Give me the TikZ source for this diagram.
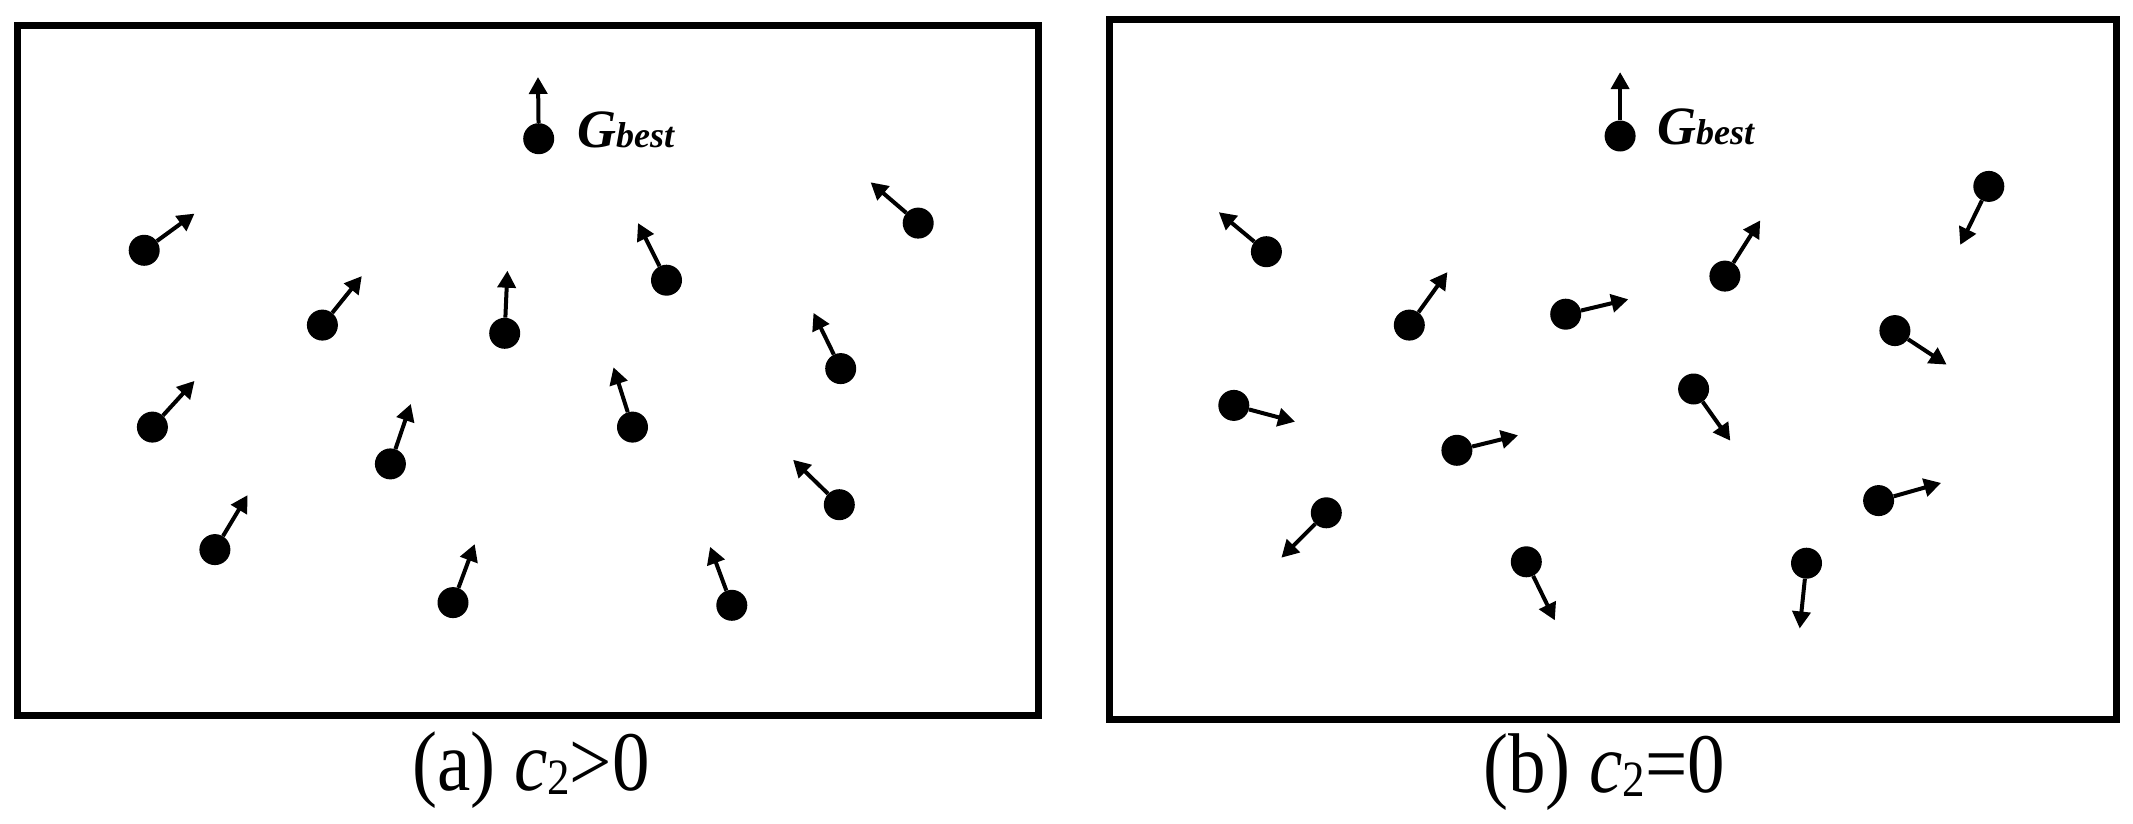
\documentclass[tikz,border=0pt]{standalone}
\usepackage{fontspec}
\setmainfont{Liberation Serif}
\usetikzlibrary{arrows.meta}
\tikzset{
  frame/.style={draw=black, line width=7pt},
  dot/.style={circle, fill=black, inner sep=0pt, minimum size=31pt},
  vec/.style={line width=4pt, -{Triangle[length=17pt,width=18pt]}},
  captext/.style={inner sep=0pt, anchor=base},
  glabel/.style={inner sep=0pt, anchor=base west}
}
\newcommand{\gbestlabel}{{\fontsize{54}{54}\selectfont\bfseries\itshape G}{\fontsize{36}{36}\selectfont\bfseries\itshape best}}
\begin{document}
\begin{tikzpicture}[x=1pt,y=-1pt]
\useasboundingbox (0,0) rectangle (2133,824);
% frames
\node[frame, minimum width=1021pt, minimum height=689pt, inner sep=0pt] (fa) at (527.5,370.5) {};
\node[frame, minimum width=1007pt, minimum height=699pt, inner sep=0pt] (fb) at (1612.5,369.5) {};
% captions
\node[captext] (capa) at (531,790) {\scalebox{1}[1.13]{\fontsize{75}{75}\selectfont (a) \textit{c}\raisebox{-0.05em}{\fontsize{45}{45}\selectfont 2}>0}};
\node[captext] (capb) at (1604,792) {\scalebox{1}[1.13]{\fontsize{75}{75}\selectfont (b) \textit{c}\raisebox{-0.05em}{\fontsize{45}{45}\selectfont 2}=0}};
% particles
\foreach \n/\x/\y/\tx/\ty in {
  a1/538.7/138.7/538/77,
  a2/144.2/250.3/194.5/213.6,
  a3/322.4/325.1/361.8/276.1,
  a4/504.7/333.3/507.4/270.7,
  a5/666.5/280.2/638.0/223.1,
  a6/918.2/223.1/870.6/182.3,
  a7/152.4/427.1/194.5/380.9,
  a8/390.4/463.9/410.8/404.0,
  a9/632.5/427.1/613.5/367.3,
  a10/840.7/368.6/813.5/312.9,
  a11/214.9/549.6/247.6/495.1,
  a12/839.3/504.7/793.1/459.8,
  a13/453.0/602.6/474.7/544.1,
  a14/731.8/605.3/710.1/546.8,
  b1/1620.1/136.0/1620.1/72.1,
  b2/1266.4/251.7/1218.8/212.2,
  b3/1409.3/325.1/1447.4/272.1,
  b4/1565.7/314.2/1628.3/299.3,
  b5/1724.9/276.1/1760.2/220.4,
  b6/1988.8/186.4/1960.2/244.9,
  b7/1894.9/330.6/1946.6/364.6,
  b8/1233.8/405.4/1295.0/421.7,
  b9/1693.6/389.0/1730.3/440.7,
  b10/1456.9/450.3/1518.1/435.3,
  b11/1326.3/512.8/1281.4/557.7,
  b12/1878.6/500.6/1941.1/482.9,
  b13/1526.3/561.8/1554.8/620.3,
  b14/1806.5/563.2/1799.7/628.5}{
  \node[dot] (\n) at (\x,\y) {};
  \coordinate (\n t) at (\tx,\ty);
  \draw[vec] (\n) -- (\n t);
}
\node[glabel] (ga) at (577,147) {\gbestlabel};
\node[glabel] (gb) at (1657,145) {\gbestlabel};
\end{tikzpicture}
\end{document}
